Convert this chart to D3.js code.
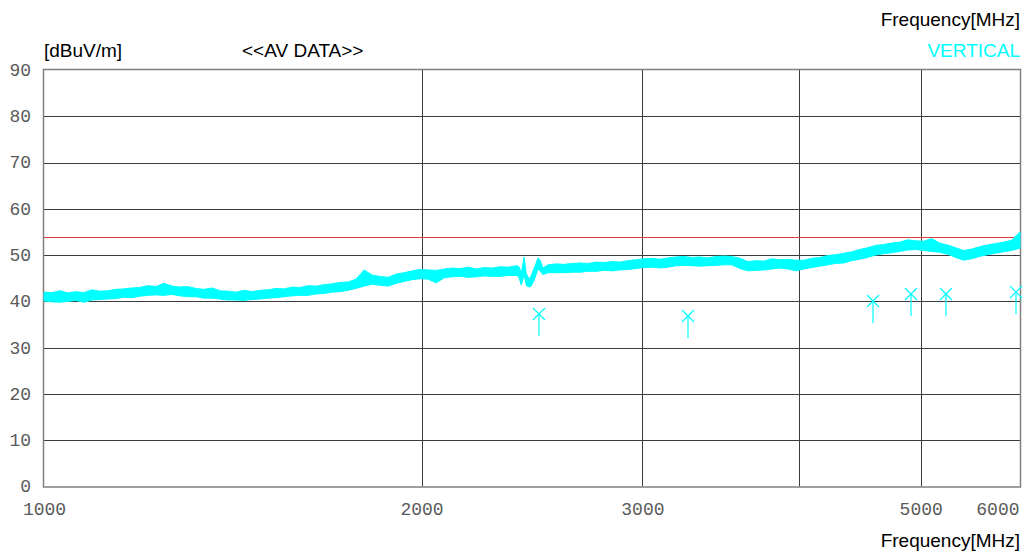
<!DOCTYPE html>
<html>
<head>
<meta charset="utf-8">
<script src="https://cdn.jsdelivr.net/npm/d3@7"></script>
<style>
  body { margin: 0; background: #fff; }
  .lbl { font-family: "Liberation Sans", Arial, sans-serif; font-size: 19px; }
  .tick text { font-family: "Liberation Mono", "Courier New", monospace; font-size: 18px; fill: #5a5a5a; }
</style>
</head>
<body>
<div id="chart"></div>
<script>
// frequency points of the trace [MHz]
var traceFreq = [1000, 1015, 1030, 1045, 1060, 1076, 1092, 1108, 1124, 1141, 1158, 1175, 1192, 1210, 1228, 1246,
  1265, 1283, 1302, 1322, 1341, 1361, 1381, 1402, 1423, 1444, 1465, 1487, 1509, 1531, 1554, 1577, 1600, 1624,
  1648, 1672, 1697, 1722, 1748, 1773, 1800, 1826, 1853, 1881, 1909, 1937, 1966, 1995, 2024, 2054, 2085, 2115,
  2147, 2178, 2211, 2243, 2277, 2310, 2344, 2379, 2390, 2402, 2414, 2424, 2437, 2446, 2461, 2477, 2486, 2499,
  2523, 2560, 2598, 2636, 2675, 2715, 2755, 2796, 2837, 2879, 2922, 2965, 3009, 3053, 3098, 3144, 3190, 3238,
  3285, 3334, 3383, 3433, 3484, 3535, 3588, 3641, 3694, 3749, 3804, 3861, 3918, 3976, 4034, 4094, 4154, 4216,
  4278, 4341, 4405, 4470, 4536, 4603, 4671, 4740, 4810, 4881, 4953, 5027, 5101, 5176, 5253, 5331, 5409, 5489,
  5570, 5653, 5736, 5821, 5907, 6000];

// lower edge of the noisy trace [dBuV/m]
var traceLow = [40.1, 39.9, 39.8, 40.0, 40.2, 39.8, 40.3, 40.4, 40.5, 40.6, 40.9, 40.8, 41.1, 41.3, 41.4, 41.3,
  41.5, 41.2, 41.0, 41.0, 40.7, 40.7, 40.5, 40.3, 40.3, 40.2, 40.4, 40.5, 40.7, 40.8, 41.0, 41.2, 41.3, 41.3,
  41.6, 41.7, 42.0, 42.1, 42.4, 42.8, 43.3, 43.7, 43.5, 43.3, 43.9, 44.3, 44.7, 44.9, 44.8, 44.0, 45.1, 45.3,
  45.4, 45.2, 45.3, 45.5, 45.4, 45.4, 45.6, 45.6, 45.4, 43.5, 45.8, 43.4, 43.1, 43.3, 44.8, 47.0, 46.6, 45.8,
  46.2, 46.2, 46.2, 46.3, 46.3, 46.5, 46.5, 46.7, 46.6, 46.8, 46.9, 47.1, 47.3, 47.4, 47.2, 47.4, 47.7, 47.8,
  47.7, 47.6, 47.7, 47.8, 47.9, 47.9, 47.1, 46.6, 46.7, 46.8, 47.0, 47.2, 47.0, 46.6, 47.0, 47.3, 47.6, 47.9,
  48.2, 48.3, 48.8, 49.1, 49.5, 50.0, 50.3, 50.5, 50.8, 51.1, 51.2, 51.0, 50.8, 50.6, 50.2, 49.5, 48.9, 49.2,
  49.7, 50.1, 50.4, 50.7, 51.0, 51.5];

// upper edge of the noisy trace [dBuV/m]
var traceHigh = [42.0, 41.9, 42.3, 41.8, 42.1, 41.9, 42.5, 42.2, 42.3, 42.6, 42.7, 42.9, 43.0, 43.4, 43.2, 43.9,
  43.3, 43.1, 43.2, 42.8, 42.6, 42.9, 42.3, 42.2, 42.0, 42.4, 42.1, 42.4, 42.5, 42.8, 42.7, 43.1, 43.0, 43.4,
  43.3, 43.6, 43.8, 44.1, 44.2, 44.8, 46.8, 45.7, 45.4, 45.2, 45.9, 46.2, 46.6, 46.9, 46.8, 46.7, 47.0, 47.2,
  47.1, 47.4, 47.0, 47.3, 47.2, 47.5, 47.4, 47.7, 47.6, 46.2, 49.6, 46.0, 44.8, 45.6, 47.4, 49.4, 48.9, 47.2,
  47.9, 48.1, 48.0, 48.2, 48.3, 48.2, 48.5, 48.4, 48.6, 48.5, 48.8, 49.0, 49.2, 49.3, 49.1, 49.4, 49.6, 49.7,
  49.5, 49.6, 49.4, 49.7, 49.8, 49.7, 49.3, 48.6, 48.8, 48.7, 49.2, 49.0, 49.1, 48.9, 48.9, 49.3, 49.5, 49.9,
  50.1, 50.4, 50.7, 51.2, 51.6, 52.1, 52.3, 52.6, 52.8, 53.3, 53.1, 53.0, 53.6, 52.6, 52.2, 51.6, 51.0, 51.3,
  51.8, 52.2, 52.5, 52.8, 53.2, 55.0];

// final measurement markers
var markFreq = [2480, 3260, 4585, 4910, 5235, 5960];
var markLevel = [37.2, 36.8, 40.1, 41.7, 41.5, 42.0];

// limit line
var limitLevel = 54;

// tick labels
var xTicks = [1000, 2000, 3000, 5000, 6000];
var xGrid = [2000, 3000, 4000, 5000];
var yTicks = [0, 10, 20, 30, 40, 50, 60, 70, 80, 90];

var W = 1025, H = 554;
var plotL = 44, plotR = 1020, plotT = 70, plotB = 486.5;

var svg = d3
  .select("#chart")
  .append("svg")
  .attr("width", W)
  .attr("height", H);

// log frequency axis
var x = d3.scaleLog().domain([1000, 6000]).range([plotL, plotR]);
// level axis
var y = d3.scaleLinear().domain([0, 90]).range([plotB, plotT]);

// horizontal grid
svg
  .append("g")
  .selectAll("line")
  .data(yTicks.slice(1, -1))
  .enter()
  .append("line")
  .attr("x1", plotL)
  .attr("x2", plotR)
  .attr("y1", function(d) { return Math.round(y(d)) + 0.5; })
  .attr("y2", function(d) { return Math.round(y(d)) + 0.5; })
  .style("stroke", "#3c3c3c")
  .style("stroke-width", 1);

// vertical grid
svg
  .append("g")
  .selectAll("line")
  .data(xGrid)
  .enter()
  .append("line")
  .attr("x1", function(d) { return Math.round(x(d)) + 0.5; })
  .attr("x2", function(d) { return Math.round(x(d)) + 0.5; })
  .attr("y1", plotT)
  .attr("y2", plotB)
  .style("stroke", "#3c3c3c")
  .style("stroke-width", 1);

// frame
svg
  .append("rect")
  .attr("x", plotL - 0.5)
  .attr("y", plotT - 0.5)
  .attr("width", plotR - plotL + 1)
  .attr("height", plotB - plotT + 1)
  .style("fill", "none")
  .style("stroke", "#808080")
  .style("stroke-width", 1.5);

// limit line
svg
  .append("line")
  .attr("x1", plotL)
  .attr("x2", plotR)
  .attr("y1", Math.round(y(limitLevel)) + 0.5)
  .attr("y2", Math.round(y(limitLevel)) + 0.5)
  .style("stroke", "#e03c3c")
  .style("stroke-width", 1);

// trace band
var traceData = traceFreq.map(function(f, i) {
  return { f: f, lo: traceLow[i], hi: traceHigh[i] };
});
var band = d3
  .area()
  .x(function(d) { return x(d.f); })
  .y0(function(d) { return y(d.lo); })
  .y1(function(d) { return y(d.hi); });

svg
  .append("path")
  .datum(traceData)
  .attr("d", band)
  .style("fill", "#00ffff")
  .style("stroke", "#00ffff")
  .style("stroke-width", 1);

// markers: cross with a stem
var marks = svg
  .append("g")
  .selectAll("g")
  .data(markFreq.map(function(f, i) { return { f: f, v: markLevel[i] }; }))
  .enter()
  .append("g")
  .attr("transform", function(d) { return "translate(" + Math.round(x(d.f)) + "," + Math.round(y(d.v)) + ")"; })
  .style("stroke", "#00ffff")
  .style("stroke-width", 1.2);
marks.append("line").attr("x1", -6).attr("y1", -6).attr("x2", 6).attr("y2", 6);
marks.append("line").attr("x1", -6).attr("y1", 6).attr("x2", 6).attr("y2", -6);
marks.append("line").attr("x1", 0).attr("y1", 0).attr("x2", 0).attr("y2", 22);

// x tick labels
var xAxis = svg
  .append("g")
  .attr("transform", "translate(0," + plotB + ")")
  .call(d3.axisBottom(x).tickValues(xTicks).tickSize(0).tickPadding(16).tickFormat(d3.format("d")));
xAxis.select(".domain").remove();
xAxis.selectAll(".tick text")
  .attr("text-anchor", function(d) { return d === 6000 ? "end" : "middle"; })
  .attr("dx", function(d) { return d === 6000 ? "-1" : "0"; });

// y tick labels
var yAxis = svg
  .append("g")
  .attr("transform", "translate(" + plotL + ",0)")
  .call(d3.axisLeft(y).tickValues(yTicks).tickSize(0).tickPadding(13));
yAxis.select(".domain").remove();
yAxis.selectAll(".tick text").attr("dy", "0.3em");

// titles
svg.append("text").attr("class", "lbl").attr("x", 44).attr("y", 57).text("[dBuV/m]");
svg.append("text").attr("class", "lbl").attr("x", 242).attr("y", 57).text("<<AV DATA>>");
svg.append("text").attr("class", "lbl").attr("x", 1020).attr("y", 26)
  .attr("text-anchor", "end").text("Frequency[MHz]");
svg.append("text").attr("class", "lbl").attr("x", 1020).attr("y", 57)
  .attr("text-anchor", "end").style("fill", "#00ffff").text("VERTICAL");
svg.append("text").attr("class", "lbl").attr("x", 1020).attr("y", 547)
  .attr("text-anchor", "end").text("Frequency[MHz]");
</script>
</body>
</html>
